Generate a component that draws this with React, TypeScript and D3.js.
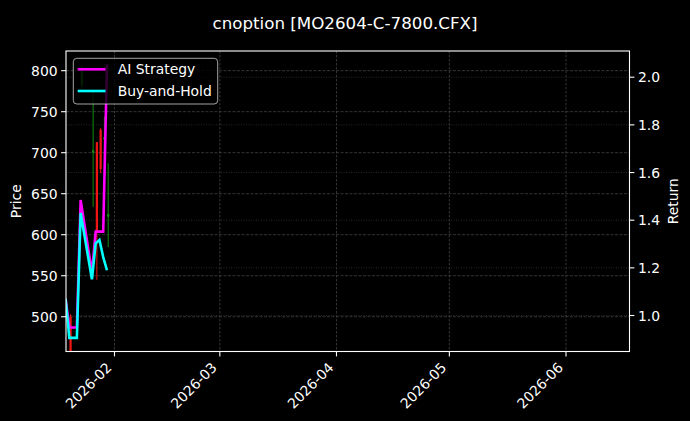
import React, { useRef, useEffect } from 'react';
import * as d3 from 'd3';

// trading days shown by the two return curves
const dates = ['2026-01-19', '2026-01-20', '2026-01-21', '2026-01-22', '2026-01-23', '2026-01-26', '2026-01-27', '2026-01-28', '2026-01-29', '2026-01-30'];
const aiStrategy = [1.07, 0.95, 0.95, 0.95, 1.485, 1.18, 1.352, 1.352, 1.352, 2.053];
const buyAndHold = [1.07, 0.906, 0.906, 0.906, 1.43, 1.152, 1.303, 1.317, 1.245, 1.19];

// candles (price axis)
const candleDates = ['2026-01-20', '2026-01-23', '2026-01-26', '2026-01-27', '2026-01-28', '2026-01-29', '2026-01-30'];
const opens = [500, 782, 700, 713, 728, 716, 622];
const highs = [503, 806, 778, 713, 730, 744, 687];
const lows = [440, 776, 634, 545, 675, 691, 585];
const closes = [445, 800, 703, 604, 680, 719, 625];

const priceTicks = [500, 550, 600, 650, 700, 750, 800];
const returnTicks = [1.0, 1.2, 1.4, 1.6, 1.8, 2.0];
const monthTicks = ['2026-02-01', '2026-03-01', '2026-04-01', '2026-05-01', '2026-06-01'];

const title = 'cnoption [MO2604-C-7800.CFX]';
const font = '"DejaVu Sans", sans-serif';

const App: React.FC = () => {
  const svgRef = useRef<SVGSVGElement>(null);
  const width = 690;
  const height = 421;

  useEffect(() => {
    document.body.style.margin = '0';
    document.body.style.background = '#000';
    if (!svgRef.current) return;
    const svg = d3.select(svgRef.current);
    svg.selectAll('*').remove();

    const margin = { top: 51, right: 60.5, bottom: 69.5, left: 66 };
    const w = width - margin.left - margin.right;
    const h = height - margin.top - margin.bottom;
    const parse = d3.utcParse('%Y-%m-%d');

    svg.append('rect').attr('width', width).attr('height', height).attr('fill', '#000');

    const x = d3.scaleUtc()
      .domain([new Date(Date.UTC(2026, 0, 19, 2, 38)), new Date(Date.UTC(2026, 5, 17, 21, 7))])
      .range([0, w]);
    const yPrice = d3.scaleLinear().domain([457.6, 824]).range([h, 0]);
    const yRet = d3.scaleLinear().domain([0.849, 2.11]).range([h, 0]);

    const defs = svg.append('defs');
    defs.append('clipPath').attr('id', 'plot-clip')
      .append('rect').attr('width', w).attr('height', h);

    const g = svg.append('g').attr('transform', `translate(${margin.left},${margin.top})`);

    // grids
    const grid = g.append('g');
    monthTicks.forEach(t => {
      const px = x(parse(t)!);
      grid.append('line').attr('x1', px).attr('x2', px).attr('y1', 0).attr('y2', h)
        .attr('stroke', '#4a4a4a').attr('stroke-width', 0.7).attr('stroke-dasharray', '2.5,1.5');
    });
    priceTicks.forEach(t => {
      grid.append('line').attr('x1', 0).attr('x2', w).attr('y1', yPrice(t)).attr('y2', yPrice(t))
        .attr('stroke', '#4a4a4a').attr('stroke-width', 0.7).attr('stroke-dasharray', '3,1.5');
    });
    returnTicks.forEach(t => {
      grid.append('line').attr('x1', 0).attr('x2', w).attr('y1', yRet(t)).attr('y2', yRet(t))
        .attr('stroke', '#383838').attr('stroke-width', 0.7).attr('stroke-dasharray', '1,1.5');
    });

    const plot = g.append('g').attr('clip-path', 'url(#plot-clip)');

    // candlesticks
    const dayW = x(new Date(Date.UTC(2026, 0, 2))) - x(new Date(Date.UTC(2026, 0, 1)));
    candleDates.forEach((d, i) => {
      const cx = x(parse(d)!) + 1.2;
      const up = closes[i] >= opens[i];
      const col = up ? '#0f8f0f' : '#f01414';
      plot.append('line').attr('x1', cx).attr('x2', cx)
        .attr('y1', yPrice(highs[i])).attr('y2', yPrice(lows[i]))
        .attr('stroke', col).attr('stroke-width', 1);
      const top = yPrice(Math.max(opens[i], closes[i]));
      const bot = yPrice(Math.min(opens[i], closes[i]));
      plot.append('rect').attr('x', cx - dayW * 0.3).attr('width', dayW * 0.6)
        .attr('y', top).attr('height', Math.max(bot - top, 0.5))
        .attr('fill', col);
    });

    const line = d3.line<number>()
      .x((_, i) => x(parse(dates[i])!))
      .y(v => yRet(v));

    plot.append('path').datum(aiStrategy).attr('d', line)
      .attr('fill', 'none').attr('stroke', '#ff00ff').attr('stroke-width', 2.6)
      .attr('stroke-linejoin', 'miter');
    plot.append('path').datum(buyAndHold).attr('d', line)
      .attr('fill', 'none').attr('stroke', '#00ffff').attr('stroke-width', 2.6)
      .attr('stroke-linejoin', 'miter');

    // frame
    g.append('rect').attr('width', w).attr('height', h)
      .attr('fill', 'none').attr('stroke', '#fff').attr('stroke-width', 1.1);

    // left axis
    priceTicks.forEach(t => {
      const py = yPrice(t);
      g.append('line').attr('x1', -4.9).attr('x2', 0).attr('y1', py).attr('y2', py)
        .attr('stroke', '#fff').attr('stroke-width', 1.1);
      g.append('text').attr('x', -8.4).attr('y', py).attr('dy', '0.36em')
        .attr('text-anchor', 'end').attr('font-size', '13.9px').attr('font-family', font)
        .attr('fill', '#fff').text(t);
    });

    // right axis
    returnTicks.forEach(t => {
      const py = yRet(t);
      g.append('line').attr('x1', w).attr('x2', w + 4.9).attr('y1', py).attr('y2', py)
        .attr('stroke', '#fff').attr('stroke-width', 1.1);
      g.append('text').attr('x', w + 8.4).attr('y', py).attr('dy', '0.36em')
        .attr('text-anchor', 'start').attr('font-size', '13.9px').attr('font-family', font)
        .attr('fill', '#fff').text(d3.format('.1f')(t));
    });

    // bottom axis
    monthTicks.forEach(t => {
      const d = parse(t)!;
      const px = x(d);
      g.append('line').attr('x1', px).attr('x2', px).attr('y1', h).attr('y2', h + 4.9)
        .attr('stroke', '#fff').attr('stroke-width', 1.1);
      g.append('text')
        .attr('transform', `translate(${px - 2},${h + 17}) rotate(-45)`)
        .attr('text-anchor', 'end').attr('font-size', '13.9px').attr('font-family', font)
        .attr('fill', '#fff').text(d3.utcFormat('%Y-%m')(d));
    });

    // axis labels
    svg.append('text')
      .attr('transform', `translate(21,${margin.top + h / 2}) rotate(-90)`)
      .attr('text-anchor', 'middle').attr('font-size', '13.9px').attr('font-family', font)
      .attr('fill', '#fff').text('Price');
    svg.append('text')
      .attr('transform', `translate(678,${margin.top + h / 2}) rotate(-90)`)
      .attr('text-anchor', 'middle').attr('font-size', '13.9px').attr('font-family', font)
      .attr('fill', '#fff').text('Return');

    // title
    svg.append('text')
      .attr('x', width / 2).attr('y', 28.5)
      .attr('text-anchor', 'middle').attr('font-size', '16.7px').attr('font-family', font)
      .attr('fill', '#fff').text(title);

    // legend
    const legend = g.append('g').attr('transform', 'translate(7.3,7.3)');
    legend.append('rect').attr('width', 144.4).attr('height', 45.7).attr('rx', 3.5)
      .attr('fill', '#000').attr('fill-opacity', 0.8)
      .attr('stroke', '#cccccc').attr('stroke-opacity', 0.8).attr('stroke-width', 1);
    const entries = [
      { label: 'AI Strategy', color: '#ff00ff' },
      { label: 'Buy-and-Hold', color: '#00ffff' },
    ];
    entries.forEach((e, i) => {
      const ly = 11 + i * 21.7;
      legend.append('line').attr('x1', 4.4).attr('x2', 32.2).attr('y1', ly).attr('y2', ly)
        .attr('stroke', e.color).attr('stroke-width', 2.6);
      legend.append('text').attr('x', 44.4).attr('y', ly).attr('dy', '0.36em')
        .attr('font-size', '13.9px').attr('font-family', font).attr('fill', '#fff')
        .text(e.label);
    });
  }, []);

  return <svg ref={svgRef} width={width} height={height} style={{ display: 'block' }} />;
};

export default App;
